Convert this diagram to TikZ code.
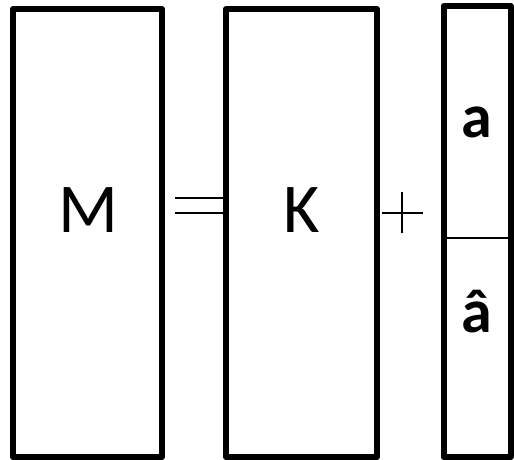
\documentclass[tikz,border=0pt]{standalone}
\usepackage{fontspec}
\setmainfont{Carlito}
\begin{document}
\begin{tikzpicture}[x=1pt,y=1pt]
\tikzset{
  colbox/.style={draw, line width=6pt, line join=round, inner sep=0pt, fill=white},
  symline/.style={line width=2.6pt},
  bigletter/.style={font=\fontsize{70}{70}\selectfont, anchor=base, inner sep=0pt},
  vecletter/.style={font=\fontsize{62}{62}\selectfont\bfseries, anchor=base, inner sep=0pt}
}
\useasboundingbox (0,0) rectangle (514,460);

% Matrice M
\node[colbox, minimum width=149pt, minimum height=448pt] (boxM) at (87.5,227) {};
\node[bigletter] (labM) at (88,227) {M};

% Signe egal
\coordinate (eqA) at (175,262);
\coordinate (eqB) at (175,247);
\draw[symline] (eqA) -- (224,262);
\draw[symline] (eqB) -- (224,247);

% Matrice K
\node[colbox, minimum width=151pt, minimum height=448pt] (boxK) at (301.5,227) {};
\node[bigletter] (labK) at (302,227) {K};

% Signe plus
\coordinate (plW) at (382,247);
\coordinate (plE) at (423,247);
\coordinate (plN) at (402,268);
\coordinate (plS) at (402,227);
\draw[symline] (plW) -- (plE);
\draw[symline] (plN) -- (plS);

% Vecteur a / a chapeau
\node[colbox, minimum width=67pt, minimum height=451pt] (boxA) at (477,228.5) {};
\coordinate (divL) at (boxA.west |- 0,222);
\coordinate (divR) at (boxA.east |- 0,222);
\draw[line width=2.4pt] (divL) -- (divR);
\node[vecletter] (labA) at (477,322) {a};
\node[vecletter] (labAhat) at (477,127) {â};

\end{tikzpicture}
\end{document}
